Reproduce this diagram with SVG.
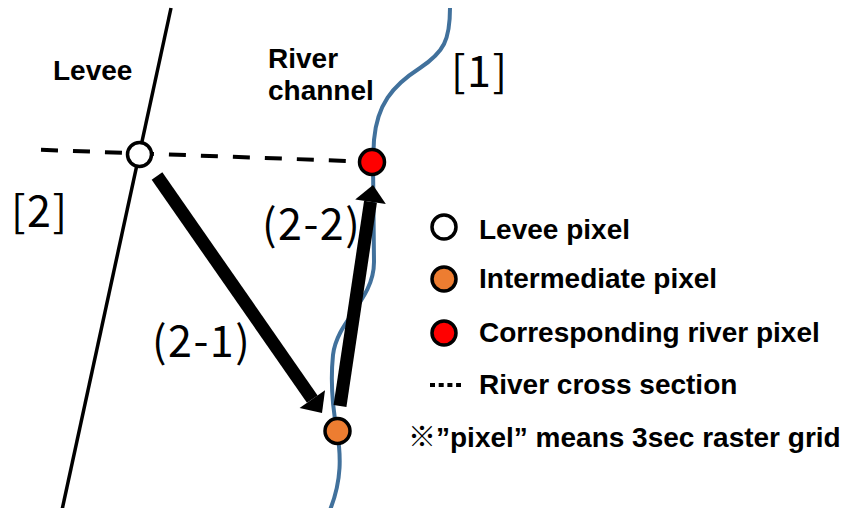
<svg xmlns="http://www.w3.org/2000/svg" width="848" height="508" viewBox="0 0 848 508">
  <style>
    .lbl { font-family: "Liberation Sans", Arial, sans-serif; font-weight: 700; font-size: 28px; fill: #000; }
    .tag { font-family: "Noto Sans CJK JP", "Noto Sans", sans-serif; font-weight: 400; font-size: 43px; letter-spacing: 1.5px; fill: #000; }
    .mark { font-family: "Noto Sans CJK JP", sans-serif; font-weight: 400; }
    .pix { stroke: #000; stroke-width: 3.5; }
    .arrow { stroke: #000; stroke-width: 13; fill: none; marker-end: url(#head); }
  </style>
  <defs>
    <marker id="head" markerUnits="userSpaceOnUse" viewBox="0 -16 17 32" refX="0" refY="0" markerWidth="17" markerHeight="32" orient="auto" overflow="visible">
      <path d="M0,-15.5 L17,0 L0,15.5 Z" fill="#000"/>
    </marker>
  </defs>
  <rect width="848" height="508" fill="#fff"/>

  <!-- levee line and river centreline -->
  <g id="levee-line">
    <line x1="171" y1="8" x2="62" y2="510" stroke="#000" stroke-width="3.5"/>
  </g>
  <g id="river-line">
    <path d="M450,8 C450,40 444,52 420,68 C392,86 377,105 374,140 L373,162 L374,262 C374,300 337,320 333,355 C330,385 333,410 337,431 C341,455 342,480 330,510" fill="none" stroke="#41719C" stroke-width="4"/>
  </g>

  <!-- cross section and flow arrows -->
  <g id="connectors">
    <line x1="41" y1="149.8" x2="362" y2="161.5" stroke="#000" stroke-width="4" stroke-dasharray="17 15"/>
    <line class="arrow" x1="157" y1="176" x2="312.3" y2="399.1"/>
    <line class="arrow" x1="340" y1="406" x2="370.5" y2="201.8"/>
  </g>

  <g id="levee-pixel"><circle class="pix" cx="139.5" cy="154.5" r="12" fill="#fff"/></g>
  <g id="river-pixel"><circle class="pix" cx="372" cy="162" r="12.5" fill="#FF0000"/></g>
  <g id="intermediate-pixel"><circle class="pix" cx="337.5" cy="431" r="12.5" fill="#ED7D31"/></g>

  <!-- labels -->
  <g id="labels">
    <text class="lbl" x="53" y="80">Levee</text>
    <text class="lbl" x="268" y="68">River</text>
    <text class="lbl" x="268" y="100">channel</text>
    <text class="tag" x="451" y="87">[1]</text>
    <text class="tag" x="11" y="227">[2]</text>
    <text class="tag" x="262" y="240">(2-2)</text>
    <text class="tag" x="152" y="357">(2-1)</text>
  </g>

  <!-- legend -->
  <g id="legend">
    <circle class="pix" cx="444" cy="227" r="12" fill="#fff"/>
    <text class="lbl" x="479" y="239">Levee pixel</text>
    <circle class="pix" cx="444" cy="279" r="12" fill="#ED7D31"/>
    <text class="lbl" x="479" y="288">Intermediate pixel</text>
    <circle class="pix" cx="444" cy="333" r="12" fill="#FF0000"/>
    <text class="lbl" x="479" y="342">Corresponding river pixel</text>
    <line x1="430" y1="385" x2="461" y2="385" stroke="#000" stroke-width="4" stroke-dasharray="5 3.7"/>
    <text class="lbl" x="479" y="394">River cross section</text>
    <text class="lbl" x="408" y="447"><tspan class="mark">※</tspan>”pixel” means 3sec raster grid</text>
  </g>
</svg>
